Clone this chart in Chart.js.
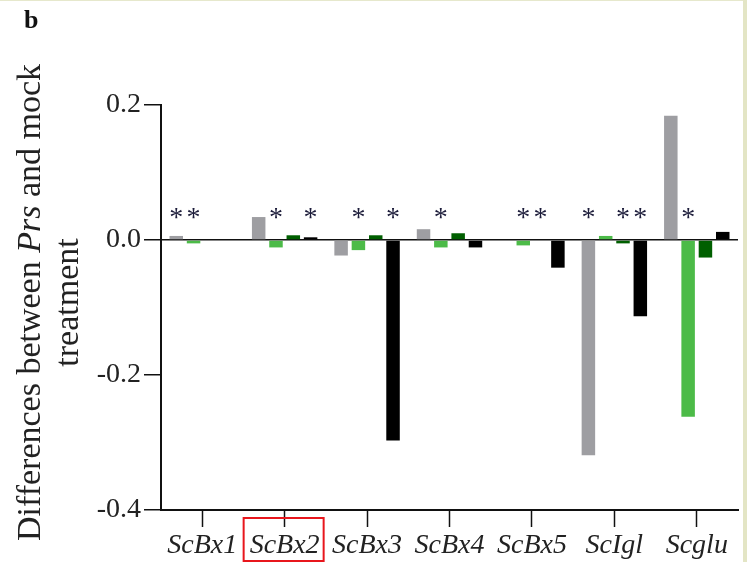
<!DOCTYPE html>
<html>
<head>
<meta charset="utf-8">
<script src="https://cdn.jsdelivr.net/npm/chart.js@4.4.1/dist/chart.umd.min.js"></script>
<style>
  html, body { margin: 0; padding: 0; }
  body {
    width: 747px; height: 562px; overflow: hidden;
    background: linear-gradient(to left, #e3e5c5 0, #e3e5c5 4px, #ffffff 4px);
  }
  #wrap { position: relative; width: 747px; height: 562px; }
  #wrap::before {
    content: ""; position: absolute; left: 0; top: 0; width: 743px; height: 1px; background: #e6e8cc;
  }
</style>
</head>
<body>
<div id="wrap"><canvas id="chart" width="747" height="562"></canvas></div>
<script>
// Genes on the x axis
const genes = ["ScBx1", "ScBx2", "ScBx3", "ScBx4", "ScBx5", "ScIgl", "Scglu"];

// Difference (Prs minus mock) for each of the four series
const seriesGray       = [0.006, 0.034, -0.023, 0.016, 0.000, -0.319, 0.184];
const seriesLightGreen = [-0.005, -0.011, -0.015, -0.011, -0.008, 0.006, -0.262];
const seriesDarkGreen  = [0.000, 0.007, 0.007, 0.010, 0.000, -0.005, -0.026];
const seriesBlack      = [0.000, 0.004, -0.297, -0.011, -0.041, -0.113, 0.012];

// Significance marks (1 = asterisk above the bar)
const starsGray       = [1, 0, 0, 0, 0, 1, 0];
const starsLightGreen = [1, 1, 1, 1, 1, 0, 1];
const starsDarkGreen  = [0, 0, 0, 0, 1, 1, 0];
const starsBlack      = [0, 1, 1, 0, 0, 1, 0];

// Y axis ticks
const yTicks = [-0.4, -0.2, 0.0, 0.2];
const starLevel = 0.04;

const serif = "'Liberation Serif', 'Times New Roman', serif";
const starSets = [starsGray, starsLightGreen, starsDarkGreen, starsBlack];

const decorations = {
  id: "decorations",
  afterDatasetsDraw(chart) {
    const ctx = chart.ctx;
    const y = chart.scales.y;
    const x = chart.scales.x;

    // asterisks above significant bars
    ctx.save();
    ctx.fillStyle = "#1c1c3a";
    ctx.font = "28px " + serif;
    ctx.textAlign = "center";
    ctx.textBaseline = "alphabetic";
    const yStar = y.getPixelForValue(starLevel);
    starSets.forEach((flags, di) => {
      const meta = chart.getDatasetMeta(di);
      flags.forEach((f, i) => {
        if (f) ctx.fillText("*", meta.data[i].x, yStar + 13);
      });
    });
    ctx.restore();

    // panel letter
    ctx.save();
    ctx.fillStyle = "#111";
    ctx.font = "bold 26px " + serif;
    ctx.textBaseline = "alphabetic";
    ctx.fillText("b", 24, 28);
    ctx.restore();

    // rotated y axis title with italic gene name
    const cy = (chart.chartArea.top + chart.chartArea.bottom) / 2 - 5;
    const size = 34;
    const parts = [
      { t: "Differences between ", f: size + "px " + serif },
      { t: "Prs", f: "italic " + size + "px " + serif },
      { t: " and mock", f: size + "px " + serif }
    ];
    ctx.save();
    ctx.fillStyle = "#222";
    ctx.textBaseline = "alphabetic";
    ctx.translate(40, cy);
    ctx.rotate(-Math.PI / 2);
    let total = 0;
    parts.forEach(p => { ctx.font = p.f; total += ctx.measureText(p.t).width; });
    let pos = -total / 2;
    parts.forEach(p => { ctx.font = p.f; ctx.fillText(p.t, pos, 0); pos += ctx.measureText(p.t).width; });
    ctx.restore();

    ctx.save();
    ctx.fillStyle = "#222";
    ctx.font = size + "px " + serif;
    ctx.textAlign = "center";
    ctx.textBaseline = "alphabetic";
    ctx.translate(78, cy);
    ctx.rotate(-Math.PI / 2);
    ctx.fillText("treatment", 0, 0);
    ctx.restore();

    // red highlight box around the second gene label
    const cx = x.getPixelForValue(1);
    ctx.save();
    ctx.strokeStyle = "#e8161c";
    ctx.lineWidth = 2;
    ctx.strokeRect(cx - 41, 518, 80, 43);
    ctx.restore();
  }
};

new Chart(document.getElementById("chart"), {
  type: "bar",
  data: {
    labels: genes,
    datasets: [
      { label: "Series 1", data: seriesGray, backgroundColor: "#9e9ea2" },
      { label: "Series 2", data: seriesLightGreen, backgroundColor: "#4cbb48" },
      { label: "Series 3", data: seriesDarkGreen, backgroundColor: "#005f00" },
      { label: "Series 4", data: seriesBlack, backgroundColor: "#000000" }
    ]
  },
  options: {
    responsive: false,
    animation: false,
    devicePixelRatio: 1,
    categoryPercentage: 0.84,
    barPercentage: 0.78,
    layout: { padding: { left: 0, right: 9, top: 105, bottom: 0 } },
    plugins: { legend: { display: false }, tooltip: { enabled: false }, title: { display: false } },
    scales: {
      x: {
        grid: {
          offset: false,
          drawOnChartArea: false,
          drawTicks: true,
          tickLength: 17,
          tickColor: "#111",
          tickWidth: 1.5
        },
        border: { display: true, color: "#111", width: 2 },
        ticks: {
          color: "#222",
          font: { family: serif, size: 28, style: "italic" },
          padding: 2,
          maxRotation: 0,
          autoSkip: false
        },
        afterFit(axis) { axis.height = 52; }
      },
      y: {
        min: -0.4,
        max: 0.2,
        afterBuildTicks(axis) { axis.ticks = yTicks.map(v => ({ value: v })); },
        grid: {
          drawOnChartArea: true,
          drawTicks: true,
          tickLength: 17,
          color: c => (c.tick && c.tick.value === 0 ? "#111" : "rgba(0,0,0,0)"),
          lineWidth: 1.5,
          tickColor: "#111",
          tickWidth: 1.5
        },
        border: { display: true, color: "#111", width: 2 },
        ticks: {
          color: "#222",
          font: { family: serif, size: 28 },
          padding: 3,
          callback: v => v.toFixed(1)
        },
        afterFit(axis) { axis.width = 161; }
      }
    }
  },
  plugins: [decorations]
});
</script>
</body>
</html>
